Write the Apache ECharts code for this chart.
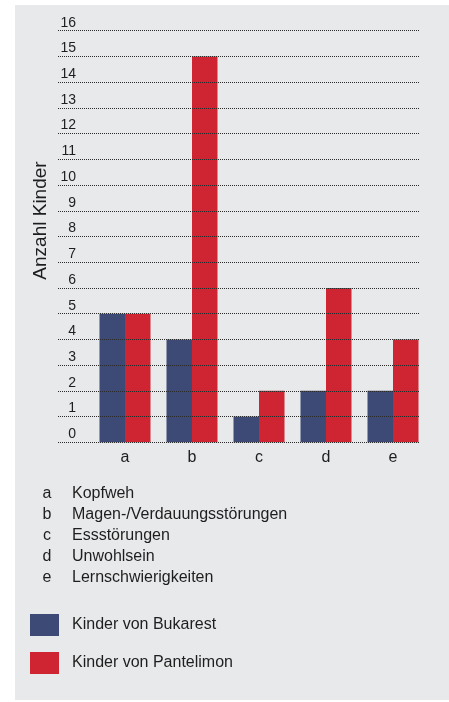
<!DOCTYPE html>
<html>
<head>
<meta charset="utf-8">
<script src="https://cdn.jsdelivr.net/npm/echarts@6/dist/echarts.min.js"></script>
<style>
html,body{margin:0;padding:0;background:#ffffff;}
#chart{width:449px;height:702px;}
</style>
</head>
<body>
<div id="chart"></div>
<script>
var categories = ['a', 'b', 'c', 'd', 'e'];
var descriptions = ['Kopfweh', 'Magen-/Verdauungsstörungen', 'Essstörungen', 'Unwohlsein', 'Lernschwierigkeiten'];
var seriesNames = ['Kinder von Bukarest', 'Kinder von Pantelimon'];
var bukarest = [5, 4, 1, 2, 2];
var pantelimon = [5, 15, 2, 6, 4];
var yTicks = {min: 0, max: 16, interval: 1};
var yAxisTitle = 'Anzahl Kinder';

var FONT = '"Liberation Sans", Arial, Helvetica, sans-serif';
var TEXT = '#1e1e1e';
var BLUE = '#3d4a76';
var RED = '#cf2432';

var chart = echarts.init(document.getElementById('chart'));

var graphics = [
  {type: 'rect', z: -10, silent: true, shape: {x: 15, y: 5, width: 434, height: 695}, style: {fill: '#e8e9eb'}},
  {type: 'text', x: 41, y: 220.5, rotation: Math.PI / 2, z: 10,
   style: {text: yAxisTitle, font: '19px ' + FONT, fill: TEXT, align: 'center', verticalAlign: 'middle'}}
];
categories.forEach(function (c, i) {
  var y = 494 + i * 21;
  graphics.push({type: 'text', x: 47, y: y, z: 10,
    style: {text: c, font: '16px ' + FONT, fill: TEXT, align: 'center', verticalAlign: 'middle'}});
  graphics.push({type: 'text', x: 72, y: y, z: 10,
    style: {text: descriptions[i], font: '16px ' + FONT, fill: TEXT, align: 'left', verticalAlign: 'middle'}});
});

var gridTop = 30.7, gridHeight = 411.6;

chart.setOption({
  animation: false,
  backgroundColor: 'transparent',
  textStyle: {fontFamily: FONT},
  graphic: graphics,
  grid: [
    {left: 58, width: 362, top: gridTop, height: gridHeight},
    {left: 91.5, width: 335, top: gridTop, height: gridHeight}
  ],
  legend: {
    orient: 'vertical', left: 30, top: 614, padding: 0,
    itemWidth: 29, itemHeight: 22, itemGap: 16,
    icon: 'rect',
    data: seriesNames,
    textStyle: {fontSize: 16, color: TEXT, fontFamily: FONT, padding: [0, 0, 0, 8]}
  },
  xAxis: [
    {gridIndex: 0, type: 'value', min: 0, max: 1, show: false},
    {gridIndex: 1, type: 'category', data: categories,
     axisLine: {show: false}, axisTick: {show: false}, splitLine: {show: false},
     axisLabel: {margin: 7, fontSize: 16, color: TEXT, fontFamily: FONT, lineHeight: 16}}
  ],
  yAxis: [
    {gridIndex: 0, type: 'value', min: yTicks.min, max: yTicks.max, interval: yTicks.interval, z: 5,
     axisLine: {show: false}, axisTick: {show: false},
     splitLine: {show: true, lineStyle: {color: '#2a2a2a', width: 1, type: [1, 1]}},
     axisLabel: {inside: true, margin: 18, align: 'right', verticalAlign: 'bottom', lineHeight: 14,
                 fontSize: 14, color: TEXT, fontFamily: FONT, padding: [0, 0, 1, 0]}},
    {gridIndex: 1, type: 'value', min: yTicks.min, max: yTicks.max, interval: yTicks.interval, show: false}
  ],
  series: [
    {name: seriesNames[0], type: 'bar', xAxisIndex: 1, yAxisIndex: 1, data: bukarest,
     barWidth: 25.5, barGap: '0%', itemStyle: {color: BLUE}},
    {name: seriesNames[1], type: 'bar', xAxisIndex: 1, yAxisIndex: 1, data: pantelimon,
     barWidth: 25.5, barGap: '0%', itemStyle: {color: RED}}
  ]
});
</script>
</body>
</html>
